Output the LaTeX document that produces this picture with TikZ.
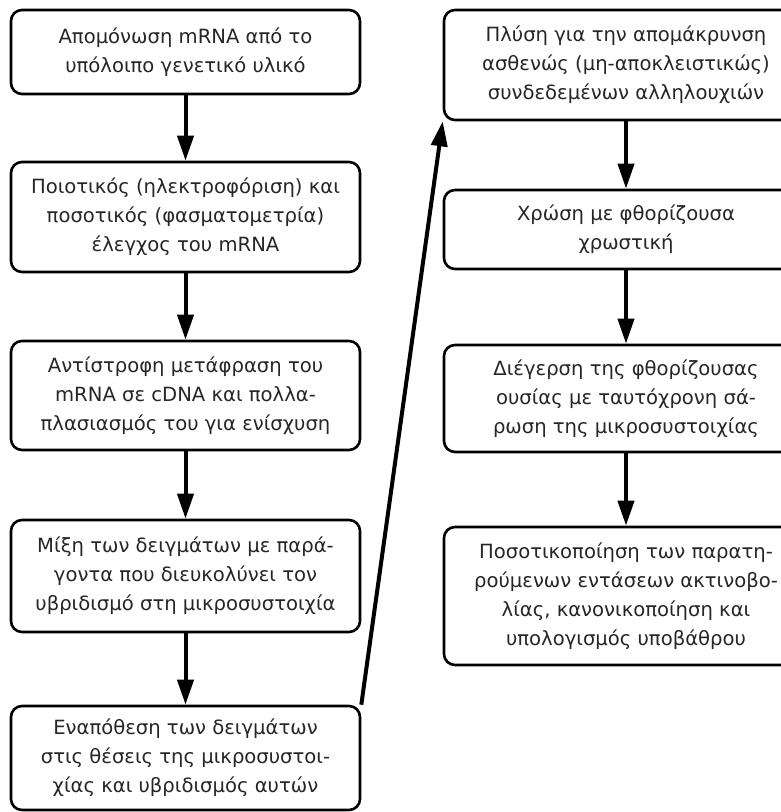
\documentclass[tikz,border=0pt]{standalone}
\usepackage{fontspec}
\setmainfont{DejaVu Sans}
\usetikzlibrary{arrows.meta}

\tikzset{
  stepbox/.style={draw, line width=2.6pt, rounded corners=11pt, align=center,
    inner sep=0pt, font=\fontsize{19.6}{29}\selectfont, text=black!85},
  flow/.style={line width=4pt, -{Triangle[length=25pt,width=16pt]}}
}

\begin{document}
\begin{tikzpicture}[x=1pt,y=1pt]
      \useasboundingbox (0,0) rectangle (781,812);
      \clip (0,0) rectangle (781,812);

      % left column
      \node[stepbox, minimum width=349pt, minimum height=84pt](iso) at (185.5, 760)
        {Απομόνωση mRNA από το\\υπόλοιπο γενετικό υλικό};
      \node[stepbox, minimum width=349pt, minimum height=110pt](qc) at (185.5, 595)
        {Ποιοτικός (ηλεκτροφόριση) και\\ποσοτικός (φασματομετρία)\\έλεγχος του mRNA};
      \node[stepbox, minimum width=349pt, minimum height=109pt](rt) at (185.5, 416.5)
        {Αντίστροφη μετάφραση του\\mRNA σε cDNA και πολλα-\\πλασιασμός του για ενίσχυση};
      \node[stepbox, minimum width=349pt, minimum height=112pt](mix) at (185.5, 236)
        {Μίξη των δειγμάτων με παρά-\\γοντα που διευκολύνει τον\\υβριδισμό στη μικροσυστοιχία};
      \node[stepbox, minimum width=349pt, minimum height=104pt](hyb) at (185.5, 54)
        {Εναπόθεση των δειγμάτων\\στις θέσεις της μικροσυστοι-\\χίας και υβριδισμός αυτών};

      % right column
      \node[stepbox, minimum width=364pt, minimum height=110pt](wash) at (626, 747)
        {Πλύση για την απομάκρυνση\\ασθενώς (μη-αποκλειστικώς)\\συνδεδεμένων αλληλουχιών};
      \node[stepbox, minimum width=364pt, minimum height=79pt](dye) at (626, 582.5)
        {Χρώση με φθορίζουσα\\χρωστική};
      \node[stepbox, minimum width=364pt, minimum height=107pt](scan) at (626, 413.5)
        {Διέγερση της φθορίζουσας\\ουσίας με ταυτόχρονη σά-\\ρωση της μικροσυστοιχίας};
      \node[stepbox, minimum width=364pt, minimum height=138pt](quant) at (626, 216)
        {Ποσοτικοποίηση των παρατη-\\ρούμενων εντάσεων ακτινοβο-\\λίας, κανονικοποίηση και\\υπολογισμός υποβάθρου};

      \draw [flow] (iso) -- (qc);
      \draw [flow] (qc) -- (rt);
      \draw [flow] (rt) -- (mix);
      \draw [flow] (mix) -- (hyb);
      \draw [flow] (hyb.north east) -- (wash.south west);
      \draw [flow] (wash) -- (dye);
      \draw [flow] (dye) -- (scan);
      \draw [flow] (scan) -- (quant);
\end{tikzpicture}
\end{document}
